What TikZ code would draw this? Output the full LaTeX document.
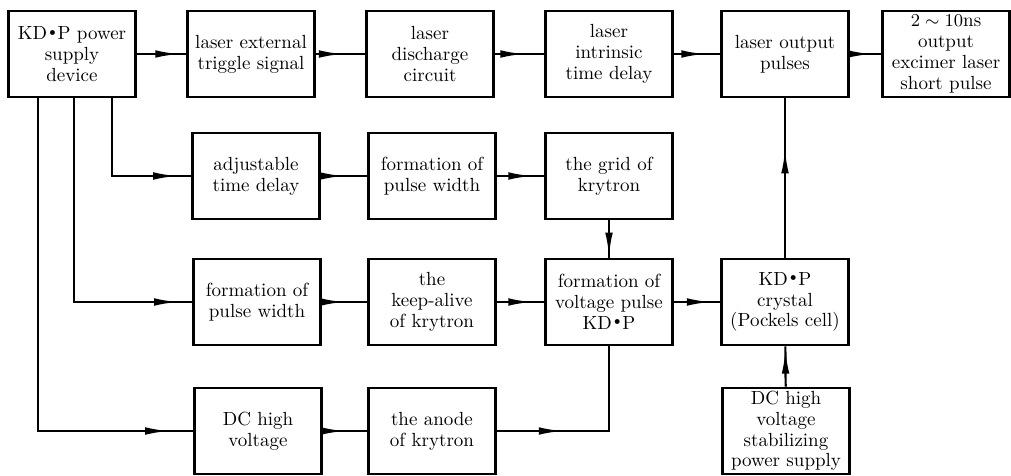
\documentclass[tikz,border=0pt]{standalone}
\usepackage{amsmath,amssymb}
\usepackage{tikz}
\usetikzlibrary{arrows.meta,calc,decorations.markings}
\newcommand{\kdp}{KD\kern.8pt\raisebox{.55ex}{$\scriptscriptstyle\bullet$}\kern.8pt P}

\begin{document}
\begin{tikzpicture}[x=0.5pt,y=-0.5pt,font=\fontsize{9.5}{10.4}\selectfont,
  blk/.style={draw,line width=1.3pt,minimum width=63.5pt,minimum height=43pt,
              inner sep=1pt,align=center},
  flow/.style={line width=1.1pt,
               decoration={markings,mark=at position #1 with
                 {\arrow{Latex[length=12pt,width=3.8pt]}}},
               postaction={decorate}},
  flow/.default=0.7]
  \useasboundingbox (0,0) rectangle (1011,476);

  \node[blk] (supply) at (72,54) {\kdp\ power\\supply\\device};
  \node[blk] (trig) at (251,54) {laser external\\triggle signal};
  \node[blk] (disch) at (430,54) {laser\\discharge\\circuit};
  \node[blk] (intr) at (609,54) {laser\\intrinsic\\time delay};
  \node[blk] (out) at (785,54) {laser output\\pulses};
  \node[blk] (short) at (946,54) {$2\sim10$ns\\output\\excimer laser\\short pulse};

  \node[blk] (adj) at (256,176) {adjustable\\time delay};
  \node[blk] (pwa) at (432,176) {formation of\\pulse width};
  \node[blk] (grid) at (609,176) {the grid of\\krytron};

  \node[blk] (pwb) at (257,302) {formation of\\pulse width};
  \node[blk] (keep) at (432,302) {the\\keep-alive\\of krytron};
  \node[blk] (volt) at (609,302) {formation of\\voltage pulse\\\kdp};
  \node[blk] (cell) at (785,302) {\kdp\\crystal\\(Pockels cell)};

  \node[blk] (dchv) at (258,431) {DC high\\voltage};
  \node[blk] (anode) at (432,431) {the anode\\of krytron};
  \node[blk] (stab) at (786,431) {DC high\\voltage\\stabilizing\\power supply};

  \draw[flow=0.86] (supply) -- (trig);
  \draw[flow=0.55] (trig) -- (disch);
  \draw[flow=0.6] (disch) -- (intr);
  \draw[flow=0.68] (intr) -- (out);
  \draw[flow=0.7] (out) -- (short);

  \draw[flow=-7pt] ($(supply.south west)+(105,0)$) |- (adj);
  \draw[flow=-7pt] ($(supply.south west)+(67,0)$) |- (pwb);
  \draw[flow=-12pt] ($(supply.south west)+(31,0)$) |- (dchv);

  \draw[flow=0.5] (adj) -- (pwa);
  \draw[flow=0.75] (pwa) -- (grid);
  \draw[flow=0.5] (pwb) -- (keep);
  \draw[flow=0.75] (keep) -- (volt);
  \draw[flow=0.8] (volt) -- (cell);
  \draw[flow=0.5] (dchv) -- (anode);
  \draw[flow=33pt] (anode) -| (volt);

  \draw[flow=0.97] (grid) -- (volt);
  \draw[flow=0.68] (cell) -- (out);
  \draw[flow=0.92] (stab) -- (cell);
\end{tikzpicture}
\end{document}
